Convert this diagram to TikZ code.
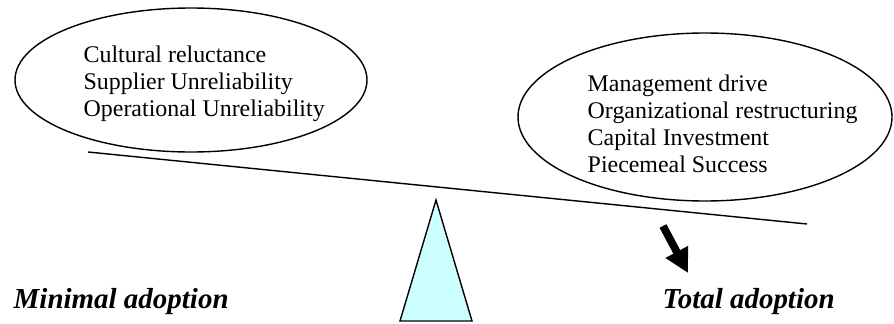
\documentclass[tikz,border=0pt]{standalone}
\usepackage{fontspec}
\setmainfont{Liberation Serif}
\usetikzlibrary{arrows.meta}
\definecolor{pivotfill}{HTML}{CCFFFF}
\begin{document}
\begin{tikzpicture}[x=0.025cm,y=-0.025cm,line width=1pt,
  factors/.style={align=left,anchor=west,inner sep=0pt,font=\fontsize{17}{19.3}\selectfont},
  outcome/.style={anchor=base west,inner sep=0pt,font=\fontsize{20.6}{24}\selectfont\bfseries\itshape}]
  \useasboundingbox (0,0) rectangle (894,323);
  \draw (191,80) ellipse (176 and 72);
  \draw (705,117) ellipse (187 and 84);
  \node[factors](against) at (83,84){Cultural reluctance\\Supplier Unreliability\\Operational Unreliability};
  \node[factors](for) at (587,124){Management drive\\Organizational restructuring\\Capital Investment\\Piecemeal Success};
  \coordinate(b1) at (88,152);
  \coordinate(b2) at (807,224);
  \draw (b1)--(b2);
  \coordinate(p0) at (436,200);
  \coordinate(p1) at (400,321);
  \coordinate(p2) at (472,321);
  \draw[fill=pivotfill] (p0)--(p1)--(p2)--cycle;
  \coordinate(a0) at (663,226);
  \coordinate(a1) at (688,273);
  \draw[line width=5.5pt,-{Triangle[width=17pt,length=17pt]}] (a0)--(a1);
  \node[outcome](min) at (13,308){Minimal adoption};
  \node[outcome](tot) at (662,308){Total adoption};
\end{tikzpicture}
\end{document}
